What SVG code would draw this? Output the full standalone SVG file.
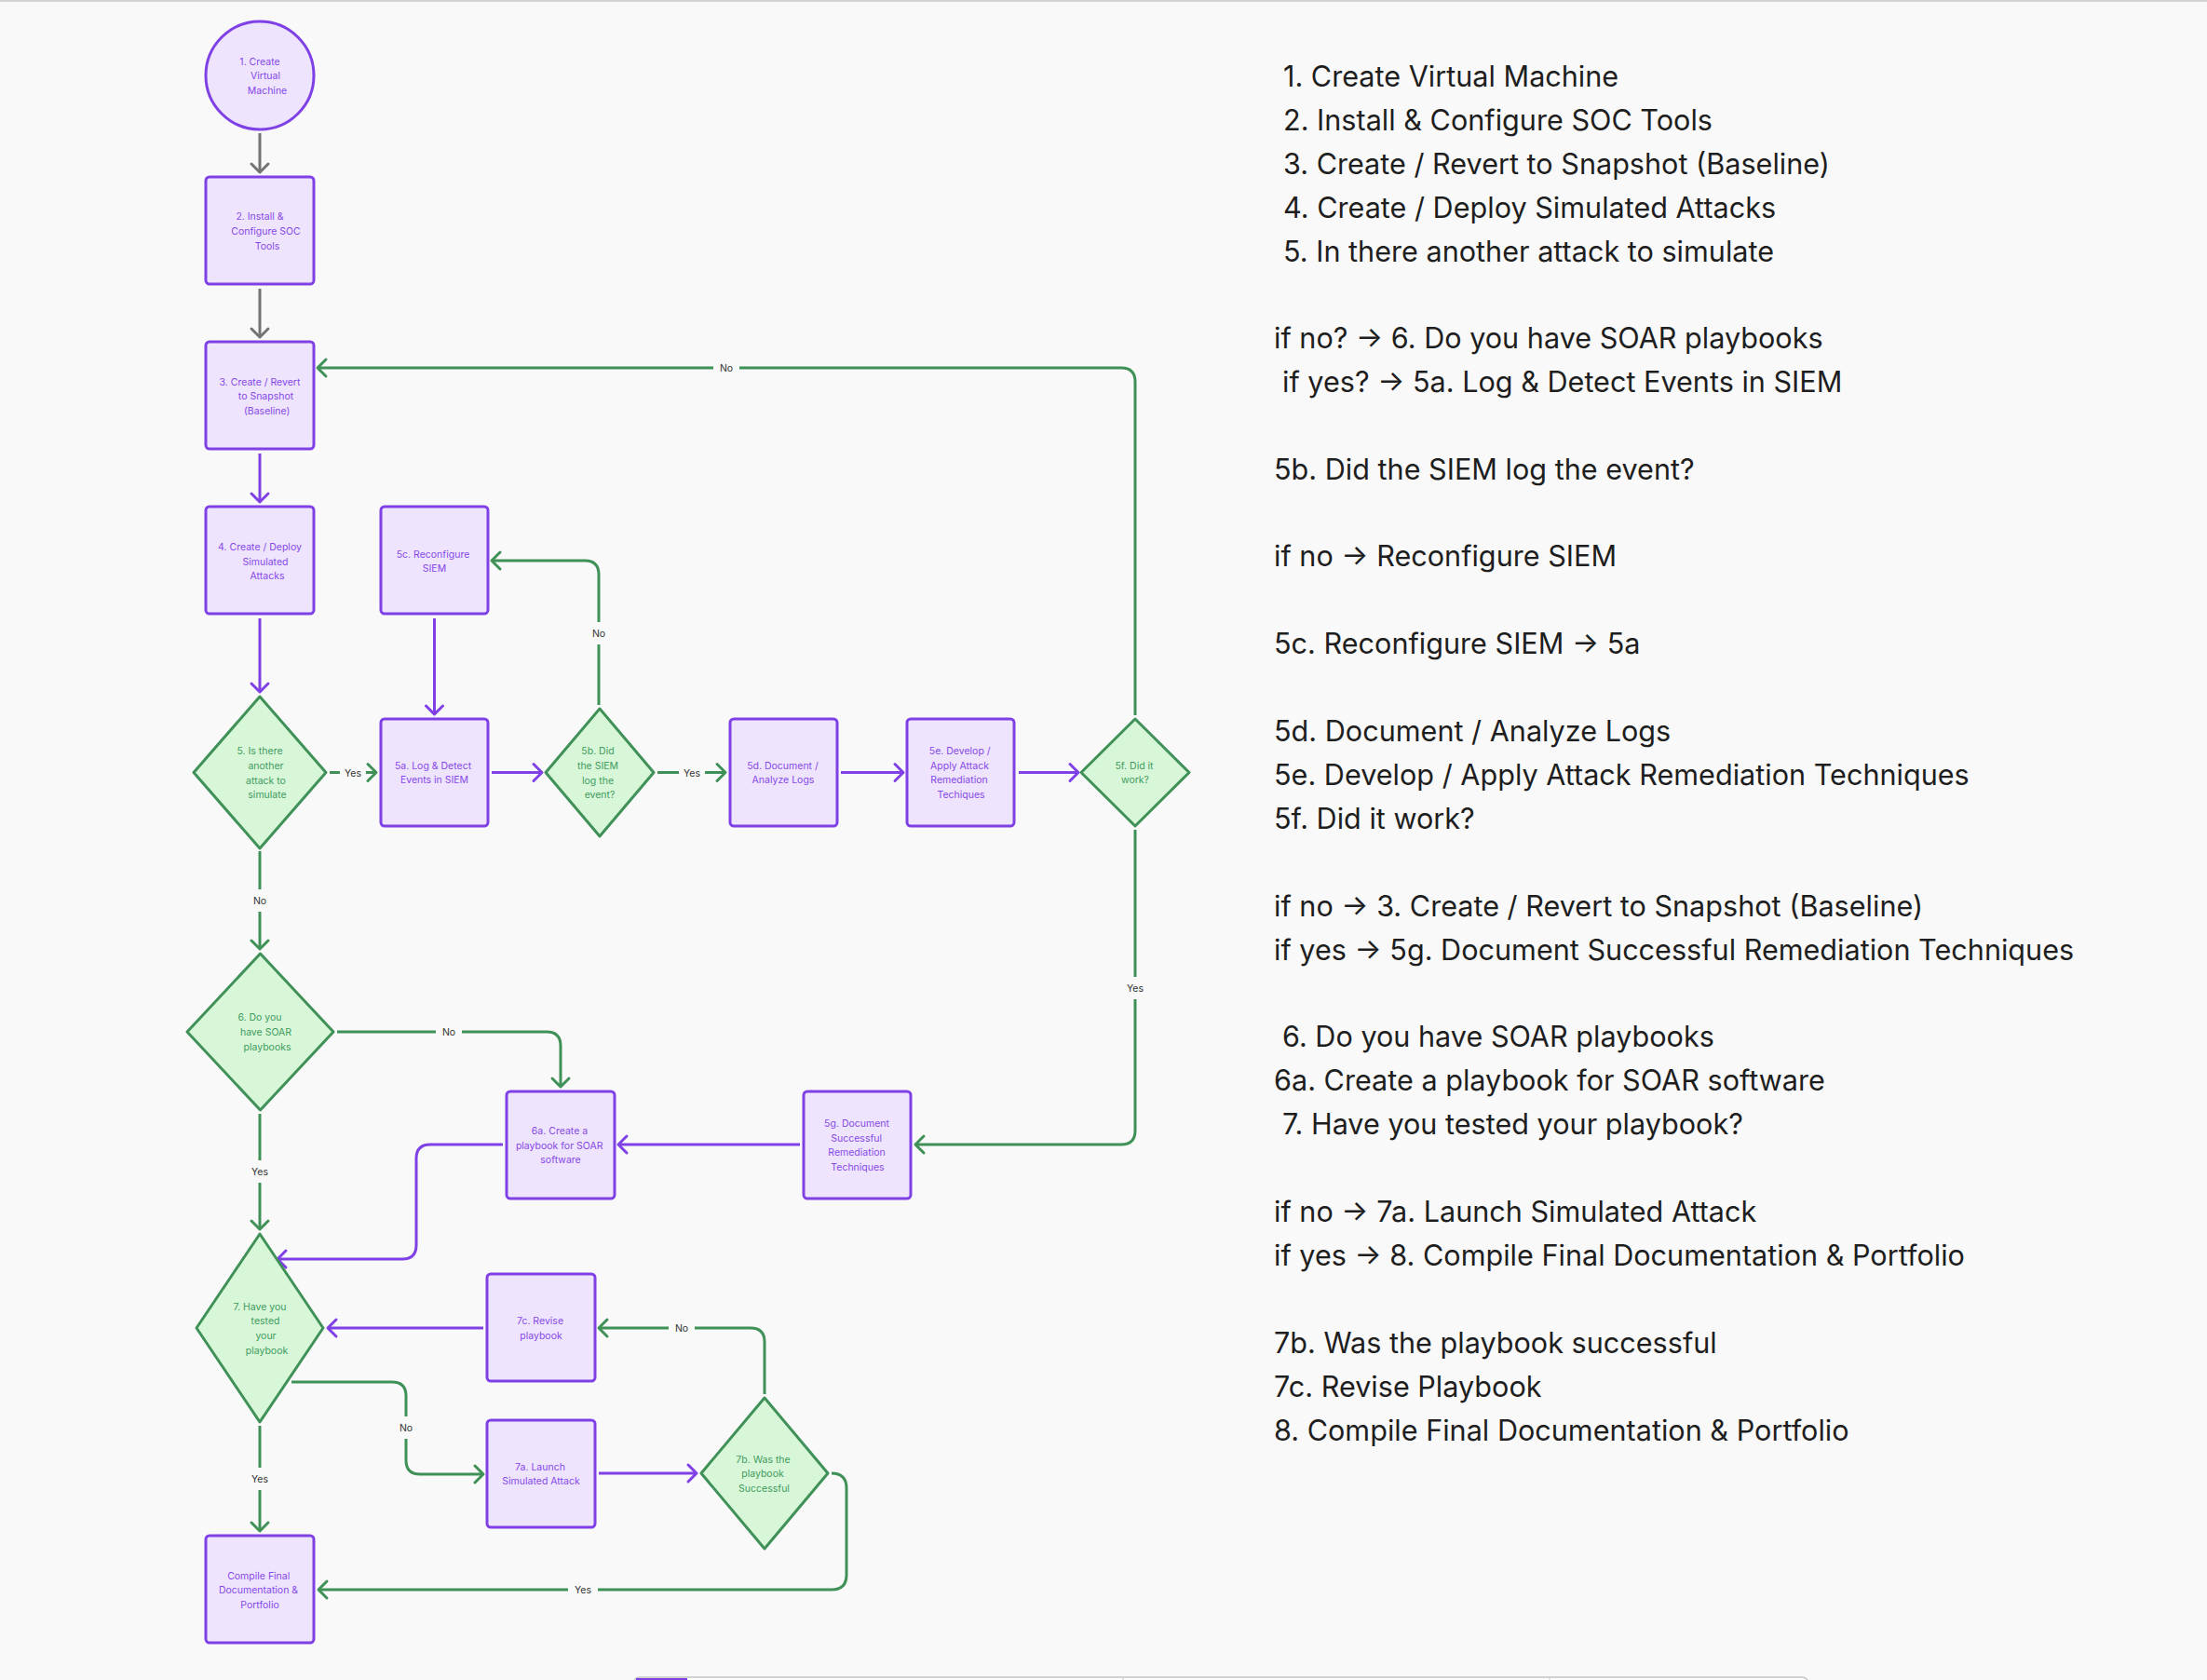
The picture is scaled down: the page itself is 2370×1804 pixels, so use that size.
<svg xmlns="http://www.w3.org/2000/svg" width="2370" height="1804" viewBox="0 0 2370 1804">
<defs>
<style>
.box{fill:#efe4fd;stroke:#7f40e6;stroke-width:3}
.dia{fill:#d8f6d8;stroke:#3f9158;stroke-width:3;stroke-linejoin:round}
.pt{font-family:Inter,"Liberation Sans",sans-serif;font-size:10.5px;fill:#8548e8;text-anchor:middle}
.gt{font-family:Inter,"Liberation Sans",sans-serif;font-size:10.5px;fill:#3f9c5e;text-anchor:middle}
.lbl{font-family:Inter,"Liberation Sans",sans-serif;font-size:10.5px;fill:#333333;text-anchor:middle}
.lb{fill:#f9f9f9}
.cp{fill:none;stroke:#7f40e6;stroke-width:3;marker-end:url(#mp)}
.cg{fill:none;stroke:#3f9158;stroke-width:3;marker-end:url(#mg)}
.cy{fill:none;stroke:#737373;stroke-width:3;marker-end:url(#my)}
.rt{font-family:Inter,"Liberation Sans",sans-serif;font-size:30.6px;fill:#1e1e1e}
</style>
<marker id="mp" markerUnits="userSpaceOnUse" markerWidth="24" markerHeight="24" viewBox="-12 -12 16 24" refX="0" refY="0" orient="auto"><path d="M-9,-9 L0,0 L-9,9" fill="none" stroke="#7f40e6" stroke-width="3" stroke-linecap="round" stroke-linejoin="round"/></marker>
<marker id="mg" markerUnits="userSpaceOnUse" markerWidth="24" markerHeight="24" viewBox="-12 -12 16 24" refX="0" refY="0" orient="auto"><path d="M-9,-9 L0,0 L-9,9" fill="none" stroke="#3f9158" stroke-width="3" stroke-linecap="round" stroke-linejoin="round"/></marker>
<marker id="my" markerUnits="userSpaceOnUse" markerWidth="24" markerHeight="24" viewBox="-12 -12 16 24" refX="0" refY="0" orient="auto"><path d="M-9,-9 L0,0 L-9,9" fill="none" stroke="#737373" stroke-width="3" stroke-linecap="round" stroke-linejoin="round"/></marker>
</defs>
<rect x="0" y="0" width="2370" height="1804" fill="#f9f9f9"/>
<line x1="0" y1="1" x2="2370" y2="1" stroke="#d4d4d4" stroke-width="2"/>

<g id="connectors">
<path class="cy" d="M279,143 L279,185"/>
<path class="cy" d="M279,310 L279,362"/>
<path class="cp" d="M279,487 L279,539"/>
<path class="cp" d="M279,664 L279,743"/>
<path class="cg" d="M354,829.5 L404,829.5"/>
<path class="cp" d="M466.5,664 L466.5,767"/>
<path class="cp" d="M528,829.5 L582,829.5"/>
<path class="cg" d="M643,757 L643,617 Q643,602 628,602 L528,602"/>
<path class="cg" d="M706,829.5 L779,829.5"/>
<path class="cp" d="M903,829.5 L970,829.5"/>
<path class="cp" d="M1094,829.5 L1158,829.5"/>
<path class="cg" d="M1219,768 L1219,410 Q1219,395 1204,395 L341,395"/>
<path class="cg" d="M1219,891 L1219,1214 Q1219,1229 1204,1229 L983,1229"/>
<path class="cp" d="M859,1229 L664,1229"/>
<path class="cg" d="M279,914 L279,1019"/>
<path class="cg" d="M362,1108 L587,1108 Q602,1108 602,1123 L602,1167"/>
<path class="cg" d="M279,1196 L279,1320"/>
<path class="cp" d="M540,1229 L462,1229 Q447,1229 447,1244 L447,1337 Q447,1352 432,1352 L298,1352"/>
<path class="cp" d="M519,1426 L352,1426"/>
<path class="cg" d="M313,1484 L421,1484 Q436,1484 436,1499 L436,1568 Q436,1583 451,1583 L519,1583"/>
<path class="cp" d="M643,1582 L748,1582"/>
<path class="cg" d="M821,1497 L821,1441 Q821,1426 806,1426 L643,1426"/>
<path class="cg" d="M893,1582 Q909,1582 909,1598 L909,1691 Q909,1707 893,1707 L342,1707"/>
<path class="cg" d="M279,1531 L279,1644"/>
<rect class="lb" x="365" y="820" width="28" height="20"/><text class="lbl" x="379" y="834">Yes</text>
<rect class="lb" x="632" y="668" width="22" height="24"/><text class="lbl" x="643" y="684">No</text>
<rect class="lb" x="729" y="820" width="28" height="20"/><text class="lbl" x="743" y="834">Yes</text>
<rect class="lb" x="766" y="385" width="28" height="20"/><text class="lbl" x="780" y="399">No</text>
<rect class="lb" x="1205" y="1049" width="28" height="24"/><text class="lbl" x="1219" y="1065">Yes</text>
<rect class="lb" x="268" y="955" width="22" height="24"/><text class="lbl" x="279" y="971">No</text>
<rect class="lb" x="468" y="1098" width="28" height="20"/><text class="lbl" x="482" y="1112">No</text>
<rect class="lb" x="265" y="1246" width="28" height="24"/><text class="lbl" x="279" y="1262">Yes</text>
<rect class="lb" x="425" y="1521" width="22" height="24"/><text class="lbl" x="436" y="1537">No</text>
<rect class="lb" x="718" y="1416" width="28" height="20"/><text class="lbl" x="732" y="1430">No</text>
<rect class="lb" x="610" y="1697" width="32" height="20"/><text class="lbl" x="626" y="1711">Yes</text>
<rect class="lb" x="265" y="1576" width="28" height="24"/><text class="lbl" x="279" y="1592">Yes</text>
</g>

<g id="n1"><circle class="box" cx="279" cy="81" r="58"/>
<text class="pt"><tspan x="279" y="70">1. Create</tspan><tspan x="285" y="85">Virtual</tspan><tspan x="287" y="101">Machine</tspan></text></g>
<g id="n2"><rect class="box" x="221" y="190" width="116" height="115" rx="4"/>
<text class="pt"><tspan x="279" y="236">2. Install &amp;</tspan><tspan x="285.5" y="252">Configure SOC</tspan><tspan x="287" y="268">Tools</tspan></text></g>
<g id="n3"><rect class="box" x="221" y="367" width="116" height="115" rx="4"/>
<text class="pt"><tspan x="279" y="414">3. Create / Revert</tspan><tspan x="285.5" y="429">to Snapshot</tspan><tspan x="286.7" y="445">(Baseline)</tspan></text></g>
<g id="n4"><rect class="box" x="221" y="544" width="116" height="115" rx="4"/>
<text class="pt"><tspan x="279" y="591">4. Create / Deploy</tspan><tspan x="285" y="607">Simulated</tspan><tspan x="287" y="622">Attacks</tspan></text></g>
<g id="n5"><path class="dia" d="M279,748 L350,829.5 L279,911 L208,829.5 Z"/>
<text class="gt"><tspan x="279" y="810">5. Is there</tspan><tspan x="285.5" y="826">another</tspan><tspan x="285.5" y="842">attack to</tspan><tspan x="287" y="857">simulate</tspan></text></g>
<g id="n5c"><rect class="box" x="409" y="544" width="115" height="115" rx="4"/>
<text class="pt"><tspan x="465" y="599">5c. Reconfigure</tspan><tspan x="466.5" y="614">SIEM</tspan></text></g>
<g id="n5a"><rect class="box" x="409" y="772" width="115" height="115" rx="4"/>
<text class="pt"><tspan x="465" y="826">5a. Log &amp; Detect</tspan><tspan x="466.5" y="841">Events in SIEM</tspan></text></g>
<g id="n5b"><path class="dia" d="M644,761 L702,829.5 L644,898 L586,829.5 Z"/>
<text class="gt"><tspan x="642" y="810">5b. Did</tspan><tspan x="642" y="826">the SIEM</tspan><tspan x="642" y="842">log the</tspan><tspan x="644" y="857">event?</tspan></text></g>
<g id="n5d"><rect class="box" x="784" y="772" width="115" height="115" rx="4"/>
<text class="pt"><tspan x="840.5" y="826">5d. Document /</tspan><tspan x="841" y="841">Analyze Logs</tspan></text></g>
<g id="n5e"><rect class="box" x="974" y="772" width="115" height="115" rx="4"/>
<text class="pt"><tspan x="1030.7" y="810">5e. Develop /</tspan><tspan x="1030.5" y="826">Apply Attack</tspan><tspan x="1030" y="841">Remediation</tspan><tspan x="1032" y="857">Techiques</tspan></text></g>
<g id="n5f"><path class="dia" d="M1219,772 L1277,829.5 L1219,887 L1161,829.5 Z"/>
<text class="gt"><tspan x="1218" y="826">5f. Did it</tspan><tspan x="1219" y="841">work?</tspan></text></g>
<g id="n5g"><rect class="box" x="863" y="1172" width="115" height="115" rx="4"/>
<text class="pt"><tspan x="920" y="1210">5g. Document</tspan><tspan x="919.7" y="1226">Successful</tspan><tspan x="920" y="1241">Remediation</tspan><tspan x="921" y="1257">Techniques</tspan></text></g>
<g id="n6"><path class="dia" d="M279.5,1024 L358,1108 L279.5,1192 L201,1108 Z"/>
<text class="gt"><tspan x="279" y="1096">6. Do you</tspan><tspan x="285.5" y="1112">have SOAR</tspan><tspan x="287" y="1128">playbooks</tspan></text></g>
<g id="n6a"><rect class="box" x="544" y="1172" width="116" height="115" rx="4"/>
<text class="pt"><tspan x="601" y="1218">6a. Create a</tspan><tspan x="600.7" y="1234">playbook for SOAR</tspan><tspan x="602" y="1249">software</tspan></text></g>
<g id="n7"><path class="dia" d="M279,1325 L347,1426 L279,1527 L211,1426 Z"/>
<text class="gt"><tspan x="279" y="1407">7. Have you</tspan><tspan x="285" y="1422">tested</tspan><tspan x="285.5" y="1438">your</tspan><tspan x="286.5" y="1454">playbook</tspan></text></g>
<g id="n7c"><rect class="box" x="523" y="1368" width="116" height="115" rx="4"/>
<text class="pt"><tspan x="580" y="1422">7c. Revise</tspan><tspan x="581" y="1438">playbook</tspan></text></g>
<g id="n7a"><rect class="box" x="523" y="1525" width="116" height="115" rx="4"/>
<text class="pt"><tspan x="580" y="1579">7a. Launch</tspan><tspan x="581" y="1594">Simulated Attack</tspan></text></g>
<g id="n7b"><path class="dia" d="M821,1501 L889,1582 L821,1663 L753,1582 Z"/>
<text class="gt"><tspan x="819.5" y="1571">7b. Was the</tspan><tspan x="819" y="1586">playbook</tspan><tspan x="820.5" y="1602">Successful</tspan></text></g>
<g id="n8"><rect class="box" x="221" y="1649" width="116" height="115" rx="4"/>
<text class="pt"><tspan x="277.7" y="1696">Compile Final</tspan><tspan x="277.5" y="1711">Documentation &amp;</tspan><tspan x="279" y="1727">Portfolio</tspan></text></g>

<g id="notes">
<text class="rt" x="1378" y="93">1. Create Virtual Machine</text>
<text class="rt" x="1378" y="140">2. Install &amp; Configure SOC Tools</text>
<text class="rt" x="1378" y="187">3. Create / Revert to Snapshot (Baseline)</text>
<text class="rt" x="1378" y="234">4. Create / Deploy Simulated Attacks</text>
<text class="rt" x="1378" y="281">5. In there another attack to simulate</text>
<text class="rt" x="1368" y="374">if no? → 6. Do you have SOAR playbooks</text>
<text class="rt" x="1377" y="421">if yes? → 5a. Log &amp; Detect Events in SIEM</text>
<text class="rt" x="1368" y="515">5b. Did the SIEM log the event?</text>
<text class="rt" x="1368" y="608">if no → Reconfigure SIEM</text>
<text class="rt" x="1368" y="702">5c. Reconfigure SIEM → 5a</text>
<text class="rt" x="1368" y="796">5d. Document / Analyze Logs</text>
<text class="rt" x="1368" y="843">5e. Develop / Apply Attack Remediation Techniques</text>
<text class="rt" x="1368" y="890">5f. Did it work?</text>
<text class="rt" x="1368" y="984">if no → 3. Create / Revert to Snapshot (Baseline)</text>
<text class="rt" x="1368" y="1031">if yes → 5g. Document Successful Remediation Techniques</text>
<text class="rt" x="1377" y="1124">6. Do you have SOAR playbooks</text>
<text class="rt" x="1368" y="1171">6a. Create a playbook for SOAR software</text>
<text class="rt" x="1377" y="1218">7. Have you tested your playbook?</text>
<text class="rt" x="1368" y="1312">if no → 7a. Launch Simulated Attack</text>
<text class="rt" x="1368" y="1359">if yes → 8. Compile Final Documentation &amp; Portfolio</text>
<text class="rt" x="1368" y="1453">7b. Was the playbook successful</text>
<text class="rt" x="1368" y="1500">7c. Revise Playbook</text>
<text class="rt" x="1368" y="1547">8. Compile Final Documentation &amp; Portfolio</text>
</g>

<g id="toolbar">
<rect x="680" y="1801" width="1262" height="16" rx="7" fill="#ffffff" stroke="#c4c4c4" stroke-width="1.5"/>
<rect x="683" y="1802" width="55" height="3" fill="#7f40e6"/>
<line x1="1206" y1="1802" x2="1206" y2="1804" stroke="#c4c4c4"/>
<line x1="1664" y1="1802" x2="1664" y2="1804" stroke="#c4c4c4"/>
</g>
</svg>
